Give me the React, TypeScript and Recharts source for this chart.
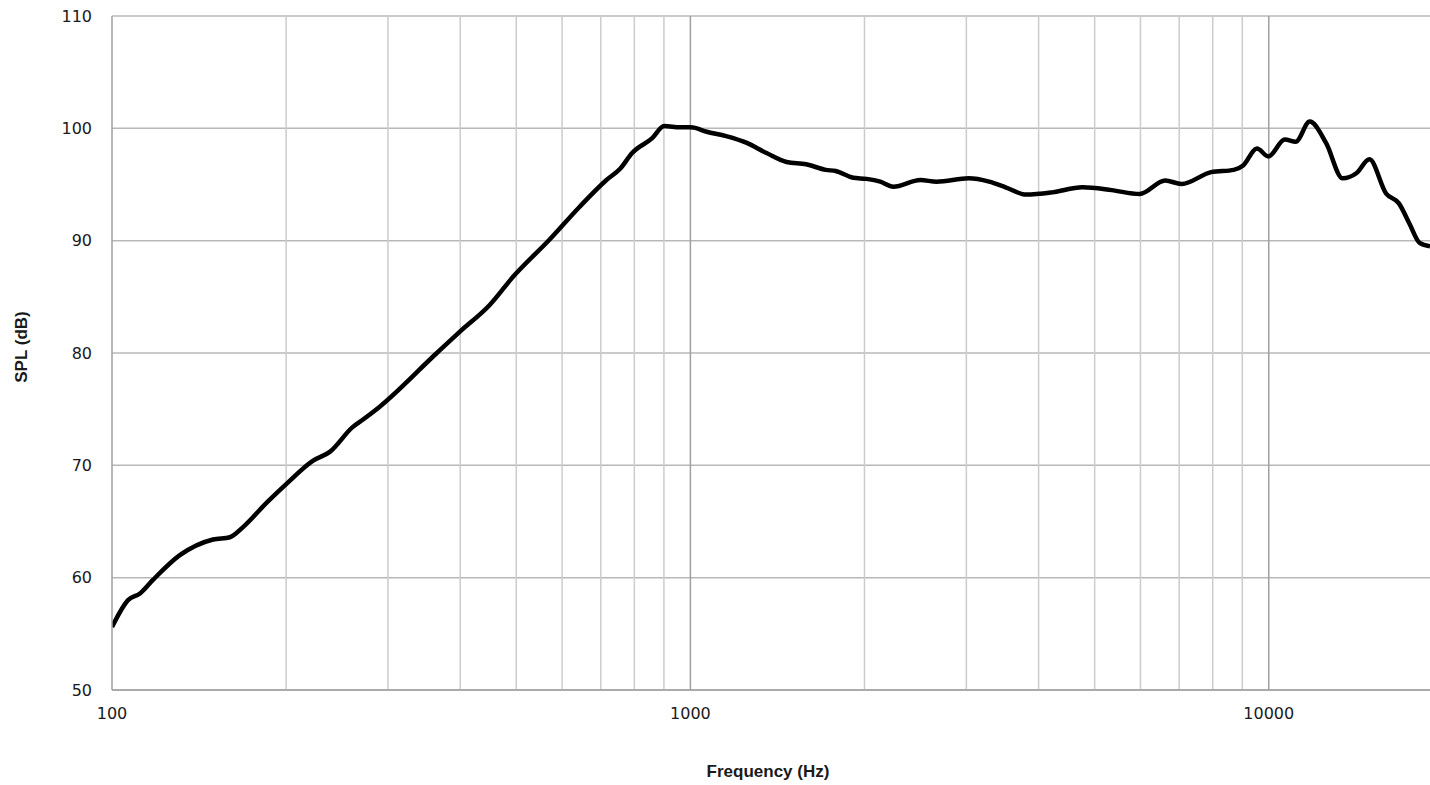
import { CartesianGrid, Line, LineChart, ReferenceLine, XAxis, YAxis } from 'recharts'

const freqs = [
  100, 106.6, 111.8, 117.7, 131, 149.5, 159.9, 168.5, 185.3, 200.7, 222.4, 238, 260.6, 272, 290,
  364.4, 399.5, 450.2, 494, 571, 643, 716, 756, 793, 858, 901, 960, 1002, 1067, 1153, 1252, 1354,
  1467, 1586, 1715, 1783, 1912, 2016, 2130, 2243, 2498, 2666, 3028, 3285, 3506, 3806, 4225, 4760,
  5350, 5980, 6620, 7070, 7950, 8700, 9030, 9540, 9985, 10660, 11130, 11770, 12560, 13420, 14170,
  14930, 15950, 16800, 17510, 18230, 19000,
]
const spl = [
  55.6, 58.0, 58.6, 59.8, 62.0, 63.4, 63.6, 64.5, 66.7, 68.4, 70.4, 71.2, 73.4, 74.1, 75.2,
  80.0, 81.9, 84.3, 86.8, 90.1, 93.0, 95.4, 96.4, 97.8, 99.1, 100.2, 100.1, 100.1, 99.7, 99.3,
  98.7, 97.8, 97.0, 96.8, 96.3, 96.2, 95.6, 95.5, 95.25, 94.8, 95.4, 95.25, 95.55, 95.25, 94.75,
  94.1, 94.3, 94.75, 94.5, 94.15, 95.35, 95.05, 96.1, 96.3, 96.7, 98.2, 97.5, 99.0, 98.8, 100.6,
  98.7, 95.55, 96.0, 97.25, 94.2, 93.3, 91.5, 89.8, 89.5,
]

const xTicks = [100, 1000, 10000]
const yTicks = [50, 60, 70, 80, 90, 100, 110]
const minorFreqs = [
  200, 300, 400, 500, 600, 700, 800, 900, 2000, 3000, 4000, 5000, 6000, 7000, 8000, 9000,
]
const majorFreqs = [1000, 10000]

const data = freqs.map((f, i) => ({ f, spl: spl[i] }))

const tickStyle = { fontFamily: 'DejaVu Sans', fontSize: 16, fill: '#1a1a1a' }
const titleStyle = { fontFamily: 'Liberation Sans', fontSize: 17, fontWeight: 700, fill: '#1a1a1a' }

export default function App() {
  return (
    <div style={{ position: 'absolute', left: 0, top: 0, width: 1430, height: 785, background: '#fff' }}>
      <LineChart width={1430} height={785} data={data} margin={{ top: 16, right: 0, bottom: 0, left: 0 }}>
        <CartesianGrid vertical={false} stroke="#b8b8b8" strokeWidth={1.5} />
        {minorFreqs.map((f) => (
          <ReferenceLine key={f} x={f} stroke="#cccccc" strokeWidth={1.5} />
        ))}
        {majorFreqs.map((f) => (
          <ReferenceLine key={f} x={f} stroke="#a0a0a0" strokeWidth={1.5} />
        ))}
        <XAxis
          dataKey="f"
          type="number"
          scale="log"
          domain={[100, 19000]}
          ticks={xTicks}
          allowDataOverflow
          height={95}
          tickSize={0}
          tickMargin={18}
          tick={tickStyle}
          axisLine={{ stroke: '#a0a0a0', strokeWidth: 1.5 }}
          label={(props: any) => {
            const vb = props.viewBox
            return (
              <text x={vb.x + vb.width / 2 - 3} y={777} textAnchor="middle" style={titleStyle}>
                Frequency (Hz)
              </text>
            )
          }}
        />
        <YAxis
          type="number"
          domain={[50, 110]}
          ticks={yTicks}
          width={112}
          tickSize={0}
          tickMargin={20}
          tick={tickStyle}
          axisLine={{ stroke: '#a0a0a0', strokeWidth: 1.5 }}
          label={(props: any) => {
            const vb = props.viewBox
            const cy = vb.y + vb.height / 2 - 6
            return (
              <text x={0} y={0} transform={`translate(26.5, ${cy}) rotate(-90)`} textAnchor="middle" style={titleStyle}>
                SPL (dB)
              </text>
            )
          }}
        />
        <Line
          type="monotone"
          dataKey="spl"
          stroke="#000"
          strokeWidth={4.5}
          dot={false}
          isAnimationActive={false}
        />
      </LineChart>
    </div>
  )
}
